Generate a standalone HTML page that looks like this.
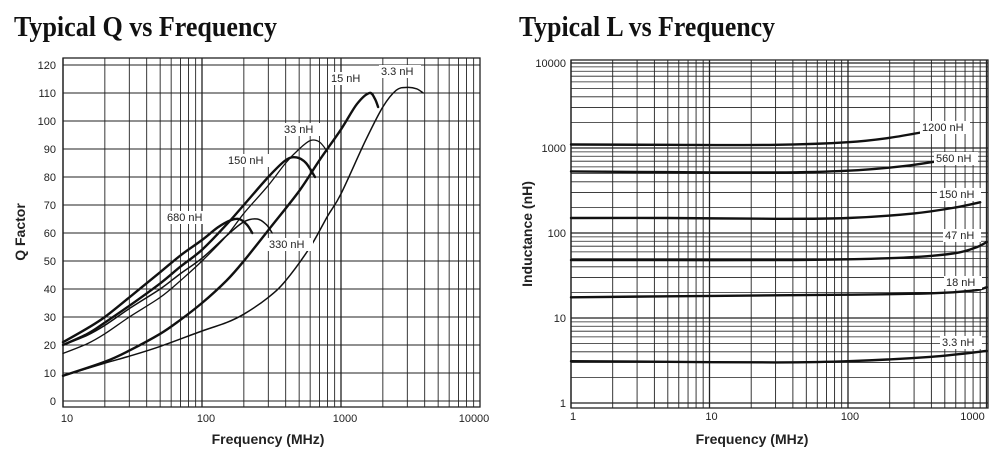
<!DOCTYPE html>
<html><head><meta charset="utf-8"><style>
html,body{margin:0;padding:0;background:#fff;width:1000px;height:457px;overflow:hidden}
svg{display:block}
</style></head><body>
<svg id="s" width="1000" height="457" xmlns="http://www.w3.org/2000/svg" font-family="Liberation Sans, sans-serif">
<text x="14" y="36" font-family="Liberation Serif, serif" font-weight="bold" font-size="29" textLength="263" lengthAdjust="spacingAndGlyphs" fill="#111">Typical Q vs Frequency</text>
<text x="519" y="36" font-family="Liberation Serif, serif" font-weight="bold" font-size="29" textLength="256" lengthAdjust="spacingAndGlyphs" fill="#111">Typical L vs Frequency</text>
<g id="g"></g>
</svg>
<script>
var g=document.getElementById('g'),h='';
function L(x1,y1,x2,y2,w,c){h+='<line x1="'+x1+'" y1="'+y1+'" x2="'+x2+'" y2="'+y2+'" stroke="'+(c||'#222')+'" stroke-width="'+w+'"/>';}
function T(x,y,t,a,s,b){h+='<text x="'+x+'" y="'+y+'" font-size="'+(s||11)+'" text-anchor="'+(a||'start')+'"'+(b?' font-weight="bold"':'')+' fill="#222">'+t+'</text>';}
function path(pts,w){
 var d='M'+pts[0][0].toFixed(1)+','+pts[0][1].toFixed(1);
 for(var i=0;i<pts.length-1;i++){var p0=pts[i-1]||pts[i],p1=pts[i],p2=pts[i+1],p3=pts[i+2]||p2;
 d+=' C'+(p1[0]+(p2[0]-p0[0])/6).toFixed(1)+','+(p1[1]+(p2[1]-p0[1])/6).toFixed(1)+' '+(p2[0]-(p3[0]-p1[0])/6).toFixed(1)+','+(p2[1]-(p3[1]-p1[1])/6).toFixed(1)+' '+p2[0].toFixed(1)+','+p2[1].toFixed(1);}
 h+='<path d="'+d+'" fill="none" stroke="#111" stroke-width="'+w+'" stroke-linecap="round"/>';}
// LEFT
var X0=63,X1=480,Y0=58,Y1=407;
function qx(f){return 63+139*Math.log10(f/10);} function qy(q){return 401-2.8*q;}
h+='<rect x="'+X0+'" y="'+Y0+'" width="'+(X1-X0)+'" height="'+(Y1-Y0)+'" fill="#fff"/>';
for(var d=10;d<10000;d*=10)for(var k=1;k<10;k++){var x=qx(d*k);L(x,Y0,x,Y1,k==1?1.3:0.9);}
for(var q=0;q<=120;q+=10){L(X0,qy(q),X1,qy(q),1.1);T(56,qy(q)+4,q,'end',11);}
h+='<rect x="'+X0+'" y="'+Y0+'" width="'+(X1-X0)+'" height="'+(Y1-Y0)+'" fill="none" stroke="#222" stroke-width="1.3"/>';
[[10,'10'],[100,'100'],[1000,'1000'],[10000,'10000']].forEach(function(a){T(qx(a[0])+(a[0]==10000?-6:4),422,a[1],'middle',11);});
T(268,444,'Frequency (MHz)','middle',14,true);
h+='<text transform="translate(25,232) rotate(-90)" font-size="14" font-weight="bold" text-anchor="middle" fill="#222">Q Factor</text>';
var Qs=[
[[[10,21],[15,26],[20,30],[30,37],[50,46],[70,52],[100,57.5],[130,62],[160,64.5],[185,65],[210,63],[230,60]],2.4],
[[[10,20],[15,24],[20,28],[30,34],[50,42],[70,48],[100,54],[150,63],[200,70],[300,80],[400,86],[480,87],[560,85],[650,80]],2.4],
[[[10,20],[15,23.5],[20,27],[30,33],[50,40],[70,45.5],[100,51],[150,59],[200,64],[250,65],[290,63],[320,60]],1.5],
[[[10,17],[15,20.5],[20,24],[30,30],[50,37],[70,43],[100,50],[150,59],[200,67],[300,77],[400,85],[500,90],[600,93],[700,92.5],[800,89]],1.3],
[[[10,9],[20,14],[30,18],[50,24],[70,29],[100,35],[150,43],[200,50],[300,61],[500,75],[700,86],[1000,97],[1300,106],[1600,110],[1750,108],[1850,105]],2.4],
[[[10,9],[20,13.5],[30,16],[50,19.5],[100,25],[150,28],[200,31],[300,37],[400,43],[600,55],[800,66],[1000,74],[1500,93],[2000,105],[2500,111],[3000,112],[3500,111.5],[3900,110]],1.5]];
Qs.forEach(function(c){path(c[0].map(function(p){return[qx(p[0]),qy(p[1])];}),c[1]);});
function lab(x,y,t,w){h+='<rect x="'+(x-2)+'" y="'+(y-10)+'" width="'+w+'" height="13" fill="#fff"/>';T(x,y,t,'start',11);}
lab(167,221,'680 nH',46);lab(228,164,'150 nH',46);lab(284,133,'33 nH',38);lab(331,82,'15 nH',38);lab(381,75,'3.3 nH',42);lab(269,248,'330 nH',46);
// RIGHT
var RX0=571,RX1=988,RY0=60,RY1=408;
function lx(f){return 571+138.5*Math.log10(f);} function ly(v){return 403-85*Math.log10(v);}
h+='<rect x="'+RX0+'" y="'+RY0+'" width="'+(RX1-RX0)+'" height="'+(RY1-RY0)+'" fill="#fff"/>';
for(var d=1;d<=1000;d*=10)for(var k=1;k<10;k++){var x=lx(d*k);if(x<RX1)L(x,RY0,x,RY1,k==1?1.3:0.9);}
for(var d=1;d<10000;d*=10)for(var k=1;k<10;k++){var y=ly(d*k);L(RX0,y,RX1,y,k==1?1.3:0.8);}
L(RX0,ly(10000),RX1,ly(10000),1.3);
h+='<rect x="'+RX0+'" y="'+RY0+'" width="'+(RX1-RX0)+'" height="'+(RY1-RY0)+'" fill="none" stroke="#222" stroke-width="1.3"/>';
[[1,'1'],[10,'10'],[100,'100'],[1000,'1000'],[10000,'10000']].forEach(function(a){T(566,ly(a[0])+4,a[1],'end',11);});
[[1,'1'],[10,'10'],[100,'100'],[1000,'1000']].forEach(function(a){T(lx(a[0])+(a[0]==1000?-14:2),420,a[1],'middle',11);});
T(752,444,'Frequency (MHz)','middle',14,true);
h+='<text transform="translate(532,234) rotate(-90)" font-size="14" font-weight="bold" text-anchor="middle" fill="#222">Inductance (nH)</text>';
var Ls=[
[[1,1100],[5,1090],[30,1090],[100,1170],[200,1320],[400,1600]],
[[1,530],[5,520],[30,515],[100,540],[250,610],[500,720]],
[[1,150],[5,150],[30,147],[100,150],[300,170],[600,200],[900,230]],
[[1,48],[5,48],[30,48],[100,49],[300,52],[600,58],[850,68],[1000,78]],
[[1,17.5],[5,18],[30,18.5],[100,18.8],[400,19.5],[800,21],[1000,23]],
[[1,3.1],[5,3.05],[30,3.0],[100,3.1],[400,3.5],[1000,4.1]]];
Ls.forEach(function(c){path(c.map(function(p){return[lx(p[0]),ly(p[1])];}),2.4);});
lab(922,131,'1200 nH',50);lab(936,162,'560 nH',44);lab(939,198,'150 nH',44);lab(945,239,'47 nH',38);lab(946,286,'18 nH',38);lab(942,346,'3.3 nH',42);
g.innerHTML=h;
</script>
</body></html>
